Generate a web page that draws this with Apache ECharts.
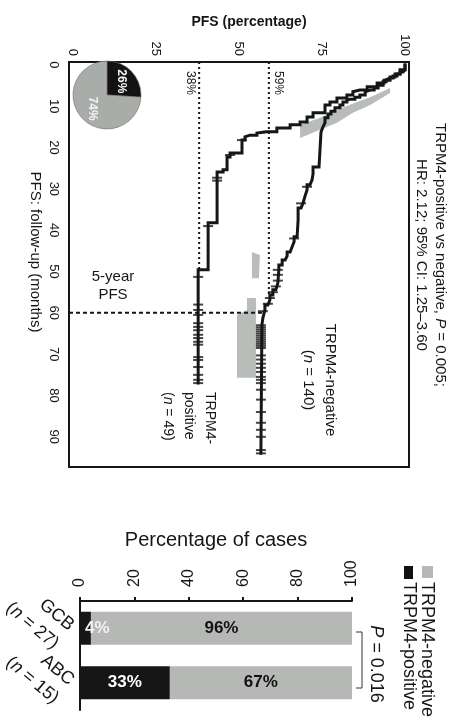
<!DOCTYPE html>
<html><head><meta charset="utf-8">
<script src="https://cdn.jsdelivr.net/npm/echarts@6/dist/echarts.min.js"></script>
<style>html,body{margin:0;padding:0;background:#fff}#c{width:460px;height:725px}</style>
</head><body><div id="c"></div>
<script>
const FONT = '"Liberation Sans", Arial, sans-serif';
const INK = '#161616';

// ---------- Kaplan-Meier panel ----------
const pfsTicks = [0, 25, 50, 75, 100];
const monthTicks = [0, 10, 20, 30, 40, 50, 60, 70, 80, 90];
const pfsAxisTitle = 'PFS (percentage)';
const monthAxisTitle = 'PFS: follow-up (months)';

const posEventT = [1.2,2.2,2.9,3.7,4.4,5.3,6.1,6.5,7.3,8.0,9.0,9.7,11.6,12.6,13.8,14.5,15.3,16.2,16.5,17.0,17.4,18.2,21.3,22.3,25.4,25.9,38.2,49.6];
const posEventS = [98.5,97,95.5,93.7,91.6,88.6,86.4,84.3,82.5,79.5,77.4,75.9,72.3,70.5,68.4,65.4,61.4,58.4,55.4,53.3,51.8,50.9,47.3,46.4,45.2,43.4,40.7,37.7];
const posEndT = 77;
const posCensorT = [16.2,18.2,21.8,27.3,28.0,39.0,51.3,58,59.3,60.5,62.5,63.4,64.2,65.3,66.1,67,67.7,70.7,71.4,73.1,75,76.2,77];

const negEventT = [1.2,1.7,2.2,2.7,3.2,3.6,4.1,4.9,5.6,6.1,6.5,7.3,7.8,8.3,8.5,9.0,9.7,10.4,11.2,11.9,12.8,14.0,15.0,16.2,24.7,26.4,27.8,29.0,30.3,31.7,33.4,34.6,37.5,41.6,42.8,44.0,45.3,46.2,47.2,48.4,49.6,52.8,54.4,55.7,56.9,58.1,59.3,61.2,62.9];
const negEventS = [99.4,98.5,97.6,96.4,95.5,94.3,93.4,91.9,90.7,89.5,88.0,86.4,84.9,83.4,82.5,81.3,80.4,78.9,77.7,76.8,75.9,75.3,74.7,74.1,72.3,72.0,71.4,70.5,69.9,69.3,68.7,67.8,67.5,66.6,66.0,65.4,64.5,63.9,63.0,62.0,61.7,61.1,60.2,59.3,58.7,57.8,57.2,56.9,56.6];
const negEndT = 94;
const negCensorT = [29.5,33.5,42,49.6,50.8,52.2,53.6,55,56.4,57.8,59.6,63.0,63.5,64.0,64.5,65.0,65.5,66.0,66.5,67.0,67.5,68.0,68.5,70.3,71.3,72.3,73.3,74.3,75.5,76.2,77,78.6,81,84,86.6,88.3,90,93.2,94];

const fiveYearPos = 38;
const fiveYearNeg = 59;
const landmarkMonth = 60;

const pieVals = [26, 74];
const pieNames = ['TRPM4-positive', 'TRPM4-negative'];

// grey shaded regions, [PFS %, month]
const greyBand1 = [[95.5,5.6],[89.5,7.8],[85.5,9.0],[79.5,10.9],[74.4,12.8],[68.4,14.5],[68.4,17.7],[74.4,15.7],[79.5,14.0],[84.3,11.6],[89.5,9.7],[95.5,6.8]];
const greyBand2 = [[53.9,45.3],[56.3,46.0],[56.0,51.6],[53.9,51.6]];
const greyBand3 = [[52.4,56.4],[55.1,56.4],[55.1,75.7],[49.4,75.7],[49.4,60.5],[52.4,59.3]];
const greyBands = [greyBand1, greyBand2, greyBand3];

// ---------- Bar panel ----------
const groups = ['GCB', 'ABC'];
const groupN = [27, 15];
const posPct = [4, 33];
const negPct = [96, 67];

// ---------- helpers ----------
function stepPath(T, S, endT) {
  const pts = [[100, 0]];
  let s = 100;
  for (let i = 0; i < T.length; i++) {
    pts.push([s, T[i]]);
    s = S[i];
    pts.push([s, T[i]]);
  }
  pts.push([s, endT]);
  return pts;
}
function survAt(t, T, S) {
  let s = 100;
  for (let i = 0; i < T.length; i++) { if (T[i] <= t) s = S[i]; }
  return s;
}
function firstTimeBelow(level, T, S) {
  for (let i = 0; i < T.length; i++) { if (S[i] <= level + 0.4) return T[i]; }
  return T[T.length - 1];
}

const negAtLandmark = survAt(landmarkMonth, negEventT, negEventS);
const posLineEnd = firstTimeBelow(fiveYearPos, posEventT, posEventS);
const negLineEnd = firstTimeBelow(fiveYearNeg, negEventT, negEventS);

const R = -Math.PI / 2;
function rtext(x, y, text, size, opts) {
  opts = opts || {};
  return {
    type: 'text', x: x, y: y, rotation: opts.rot === undefined ? R : opts.rot, silent: true,
    style: Object.assign({
      text: text, fill: INK, fontSize: size, fontFamily: FONT, fontWeight: opts.weight || 'normal',
      align: opts.align || 'center', verticalAlign: 'middle',
      textAlign: opts.align || 'center', textVerticalAlign: 'middle',
      lineHeight: opts.lh || size * 1.2,
      rich: {
        t: {fontSize: size, fontFamily: FONT, fill: INK, lineHeight: opts.lh || size * 1.2},
        i: {fontSize: size, fontFamily: FONT, fill: INK, fontStyle: 'italic', lineHeight: opts.lh || size * 1.2}
      }
    }, opts.style || {})
  };
}

const chart = echarts.init(document.getElementById('c'), null, {renderer: 'canvas'});

const option = {
  animation: false,
  backgroundColor: '#fff',
  textStyle: {fontFamily: FONT},
  grid: [
    {left: 69, top: 62, width: 340, height: 405, show: true, borderColor: INK, borderWidth: 2, backgroundColor: 'transparent', containLabel: false, outerBoundsMode: 'none'},
    {left: 80, top: 601, width: 272, height: 109, containLabel: false, outerBoundsMode: 'none'}
  ],
  xAxis: [
    {
      gridIndex: 0, type: 'value', position: 'top', min: -1.2, max: 101.2,
      axisLine: {show: false}, axisTick: {show: false}, splitLine: {show: false},
      axisLabel: {customValues: pfsTicks, rotate: -90, margin: 6, fontSize: 13, color: INK, fontFamily: FONT}
    },
    {
      gridIndex: 1, type: 'value', position: 'top', min: 0, max: 100, interval: 20,
      axisLine: {show: true, lineStyle: {color: INK, width: 2}},
      axisTick: {show: true, inside: false, length: 4, lineStyle: {color: INK, width: 2}},
      splitLine: {show: false},
      axisLabel: {rotate: -90, margin: 14, fontSize: 16, color: INK, fontFamily: FONT},
      name: 'Percentage of cases', nameLocation: 'middle', nameGap: 51,
      nameTextStyle: {fontSize: 20, color: INK, fontFamily: FONT}
    }
  ],
  yAxis: [
    {
      gridIndex: 0, type: 'value', inverse: true, min: -0.7, max: 97.3,
      axisLine: {show: false}, axisTick: {show: false}, splitLine: {show: false},
      axisLabel: {customValues: monthTicks, rotate: -90, margin: 9, fontSize: 13, color: INK, fontFamily: FONT}
    },
    {
      gridIndex: 1, type: 'category', data: groups, inverse: true,
      axisLine: {show: true, lineStyle: {color: INK, width: 2}},
      axisTick: {show: false},
      axisLabel: {
        interval: 0, hideOverlap: false,
        rotate: -40, margin: 9, fontFamily: FONT, color: INK, padding: [22, 0, 0, 0],
        formatter: function (v, i) { return '{t|' + v + '}\n{t|(}{i|n}{t| = ' + groupN[i] + ')}'; },
        rich: {
          t: {fontSize: 18, fontFamily: FONT, color: INK, lineHeight: 24},
          i: {fontSize: 18, fontFamily: FONT, color: INK, fontStyle: 'italic', lineHeight: 24}
        }
      }
    }
  ],
  series: [
    {
      type: 'custom', xAxisIndex: 0, yAxisIndex: 0, z: 1, silent: true,
      data: greyBands.map(b => b[0]),
      renderItem: function (params, api) {
        const band = greyBands[params.dataIndex];
        return {type: 'polygon', shape: {points: band.map(p => api.coord(p))}, style: {fill: '#b9bdba'}};
      }
    },
    {
      type: 'line', name: 'ref38', xAxisIndex: 0, yAxisIndex: 0, z: 2, silent: true,
      data: [[fiveYearPos, -0.7], [fiveYearPos, posLineEnd]],
      showSymbol: false, symbol: 'none',
      lineStyle: {color: INK, width: 2, type: [2, 3]}
    },
    {
      type: 'line', name: 'ref59', xAxisIndex: 0, yAxisIndex: 0, z: 2, silent: true,
      data: [[fiveYearNeg, -0.7], [fiveYearNeg, negLineEnd]],
      showSymbol: false, symbol: 'none',
      lineStyle: {color: INK, width: 2, type: [2, 3]}
    },
    {
      type: 'line', name: 'ref60', xAxisIndex: 0, yAxisIndex: 0, z: 2, silent: true,
      data: [[-1.2, landmarkMonth], [negAtLandmark, landmarkMonth]],
      showSymbol: false, symbol: 'none',
      lineStyle: {color: INK, width: 2, type: [4, 3]}
    },
    {
      type: 'line', name: 'TRPM4-positive', xAxisIndex: 0, yAxisIndex: 0, z: 3,
      data: stepPath(posEventT, posEventS, posEndT),
      showSymbol: false, symbol: 'none',
      lineStyle: {color: INK, width: 3, join: 'miter', cap: 'square'}
    },
    {
      type: 'line', name: 'TRPM4-negative', xAxisIndex: 0, yAxisIndex: 0, z: 3,
      data: stepPath(negEventT, negEventS, negEndT),
      showSymbol: false, symbol: 'none',
      lineStyle: {color: INK, width: 3, join: 'miter', cap: 'square'}
    },
    {
      type: 'scatter', xAxisIndex: 0, yAxisIndex: 0, z: 4, silent: true,
      data: posCensorT.map(t => [survAt(t, posEventT, posEventS), t]),
      symbol: 'rect', symbolSize: [10, 2], itemStyle: {color: INK}
    },
    {
      type: 'scatter', xAxisIndex: 0, yAxisIndex: 0, z: 4, silent: true,
      data: negCensorT.map(t => [survAt(t, negEventT, negEventS), t]),
      symbol: 'rect', symbolSize: [10, 2], itemStyle: {color: INK}
    },
    {
      type: 'pie', center: [107, 95], radius: 34, startAngle: 90, clockwise: true, silent: true, z: 5,
      data: pieVals.map((v, i) => ({value: v, name: pieNames[i], itemStyle: {color: i === 0 ? '#121212' : '#a9ada9'}})),
      itemStyle: {borderColor: '#7a6a6a', borderWidth: 0.6},
      label: {show: true, position: 'inside', rotate: -90, formatter: '{c}%', color: '#f4f4f4', fontSize: 12, fontWeight: 'bold', fontFamily: FONT},
      labelLine: {show: false}, emphasis: {disabled: true}
    },
    {
      type: 'bar', name: 'TRPM4-positive', xAxisIndex: 1, yAxisIndex: 1, stack: 'all', barWidth: 33, z: 3,
      data: posPct.map(v => v < 10 ? {value: v, label: {position: 'insideLeft', distance: 5, color: '#f2f2f2'}} : v),
      itemStyle: {color: '#161616'},
      label: {show: true, position: 'inside', formatter: '{c}%', color: '#ffffff', fontSize: 17, fontWeight: 'bold', fontFamily: FONT}
    },
    {
      type: 'bar', name: 'TRPM4-negative', xAxisIndex: 1, yAxisIndex: 1, stack: 'all', barWidth: 33, z: 2,
      data: negPct,
      itemStyle: {color: '#b5b8b5'},
      label: {show: true, position: 'inside', formatter: '{c}%', color: '#111', fontSize: 17, fontWeight: 'bold', fontFamily: FONT}
    }
  ],
  graphic: [
    rtext(249, 22, pfsAxisTitle, 14, {rot: 0, weight: 'bold'}),
    rtext(35, 252, monthAxisTitle, 15),
    rtext(190, 71, '38%', 12, {align: 'left'}),
    rtext(278, 71, '59%', 12, {align: 'left'}),
    rtext(113, 286, '5-year\nPFS', 15, {rot: 0, lh: 18}),
    rtext(319, 380, '{t|TRPM4-negative}\n{t|(}{i|n}{t| = 140)}', 15, {lh: 22}),
    rtext(189, 392, '{t|TRPM4-}\n{t|positive}\n{t|(}{i|n}{t| = 49)}', 14, {align: 'left', lh: 21}),
    rtext(431, 255, '{t|TRPM4-positive vs negative, }{i|P}{t| = 0.005;}\n{t|HR: 2.12; 95% CI: 1.25\u20133.60}', 15, {lh: 19}),
    {type: 'rect', silent: true, shape: {x: 422, y: 566, width: 11, height: 12}, style: {fill: '#b5b8b5'}},
    {type: 'rect', silent: true, shape: {x: 404, y: 566, width: 9, height: 13}, style: {fill: '#111'}},
    rtext(427, 582, 'TRPM4-negative', 18, {align: 'left'}),
    rtext(409, 582, 'TRPM4-positive', 18, {align: 'left'}),
    rtext(376, 664, '{i|P}{t| = 0.016}', 18),
    {type: 'polyline', silent: true, shape: {points: [[356, 632], [362, 632], [362, 688], [356, 688]]}, style: {stroke: '#333', lineWidth: 1, fill: null}}
  ]
};
chart.setOption(option);
</script>
</body></html>
